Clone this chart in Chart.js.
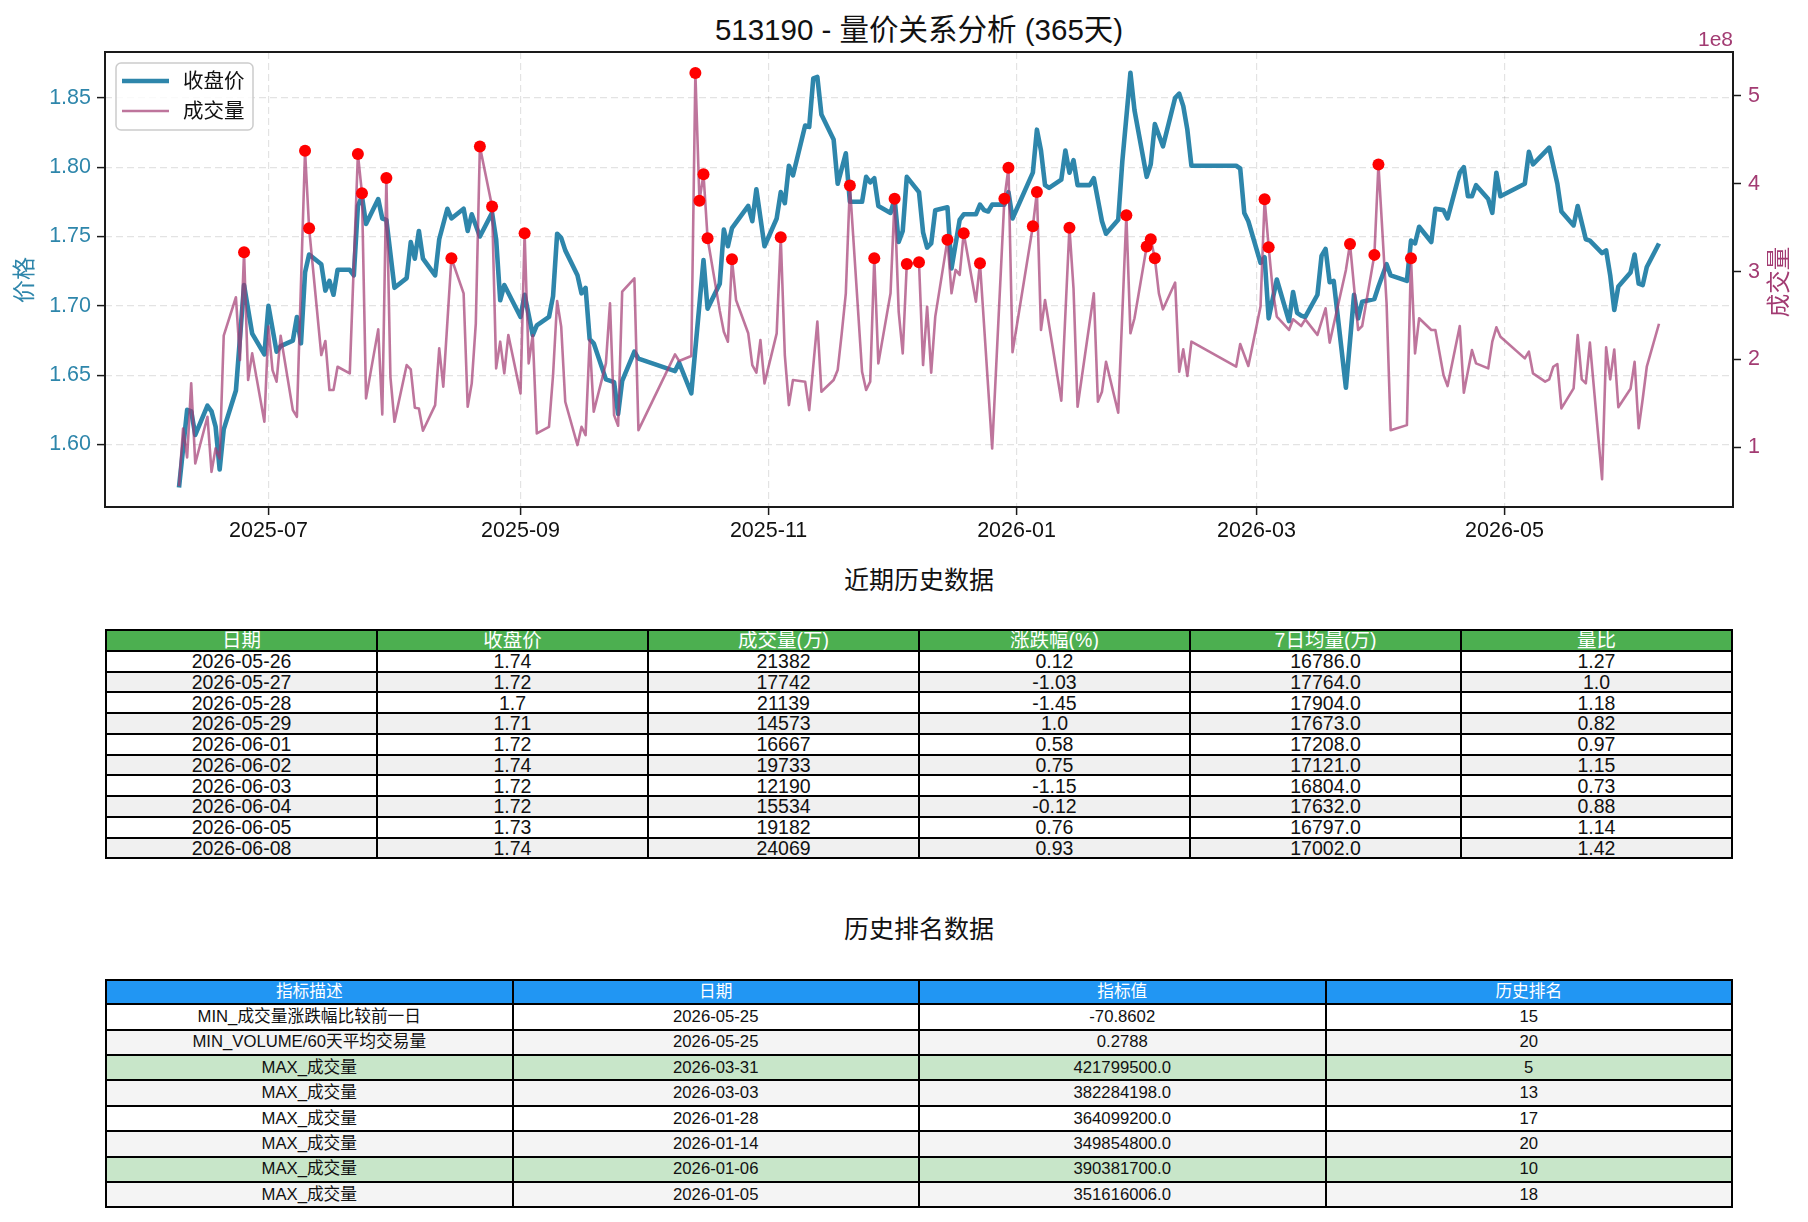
<!DOCTYPE html>
<html>
<head>
<meta charset="utf-8">
<script src="https://cdn.jsdelivr.net/npm/chart.js@4.4.1/dist/chart.umd.min.js"></script>
<style>
  body { margin:0; background:#fff; width:1808px; height:1222px; position:relative; overflow:hidden;
         font-family:"Liberation Sans","Noto Sans CJK SC",sans-serif; color:#111; }
  #chart { position:absolute; left:0; top:0; }
  .ttl { position:absolute; left:0; width:1838px; text-align:center; white-space:nowrap; }
  #mainTitle { top:12px; font-size:29.5px; line-height:36px; }
  #sub1 { top:565px; font-size:25px; line-height:30px; }
  #sub2 { top:914px; font-size:25px; line-height:30px; }
  table { position:absolute; left:105px; width:1628px; border-collapse:collapse; table-layout:fixed; }
  td, th { border:2px solid #000; padding:0; text-align:center; font-weight:normal; white-space:nowrap; overflow:hidden; }
  #t1 { top:629px; font-size:19.5px; }
  #t1 td, #t1 th { line-height:18px; }
  #t1 tr { height:20.75px; }
  #t1 th { background:#4CAF50; color:#fff; }
  #t1 tr.alt td { background:#f0f0f0; }
  #t2 { top:979px; font-size:16.7px; }
  #t2 td, #t2 th { line-height:16px; }
  #t2 tr { height:25.4px; }
  #t2 tr.head { height:24.3px; }
  #t2 th { background:#2196F3; color:#fff; }
  #t2 tr.alt td { background:#f4f4f4; }
  #t2 tr.hit td { background:#C8E6C9; }
</style>
</head>
<body>
<div id="mainTitle" class="ttl">513190 - 量价关系分析 (365天)</div>
<canvas id="chart" width="1808" height="560"></canvas>
<div id="sub1" class="ttl">近期历史数据</div>
<table id="t1"></table>
<div id="sub2" class="ttl">历史排名数据</div>
<table id="t2"></table>

<script>
// 收盘价
const priceDates = ['2025-06-09','2025-06-11','2025-06-12','2025-06-13','2025-06-16','2025-06-17','2025-06-18','2025-06-19','2025-06-20','2025-06-23','2025-06-25','2025-06-27','2025-06-30',
  '2025-07-01','2025-07-03','2025-07-04','2025-07-07','2025-07-08','2025-07-09','2025-07-10','2025-07-11','2025-07-14','2025-07-15','2025-07-16','2025-07-17','2025-07-18','2025-07-21','2025-07-22','2025-07-23','2025-07-24','2025-07-25','2025-07-28','2025-07-29','2025-07-30',
  '2025-08-01','2025-08-04','2025-08-05','2025-08-06','2025-08-07','2025-08-08','2025-08-11','2025-08-12','2025-08-14','2025-08-15','2025-08-18','2025-08-19','2025-08-20','2025-08-22','2025-08-25','2025-08-26','2025-08-27','2025-08-28',
  '2025-09-01','2025-09-02','2025-09-04','2025-09-05','2025-09-08','2025-09-09','2025-09-10','2025-09-11','2025-09-12','2025-09-15','2025-09-16','2025-09-17','2025-09-18','2025-09-19','2025-09-22','2025-09-24','2025-09-25','2025-09-26','2025-09-29','2025-09-30',
  '2025-10-09','2025-10-10','2025-10-13','2025-10-16','2025-10-17','2025-10-20','2025-10-21','2025-10-22','2025-10-23','2025-10-27','2025-10-28','2025-10-29','2025-10-31',
  '2025-11-03','2025-11-04','2025-11-05','2025-11-06','2025-11-07','2025-11-10','2025-11-11','2025-11-12','2025-11-13','2025-11-14','2025-11-17','2025-11-18','2025-11-20','2025-11-21','2025-11-24','2025-11-25','2025-11-26','2025-11-27','2025-11-28',
  '2025-12-01','2025-12-02','2025-12-03','2025-12-04','2025-12-05','2025-12-08','2025-12-09','2025-12-10','2025-12-11','2025-12-12','2025-12-15','2025-12-16','2025-12-18','2025-12-19','2025-12-22','2025-12-23','2025-12-24','2025-12-25','2025-12-26','2025-12-29','2025-12-30','2025-12-31',
  '2026-01-05','2026-01-06','2026-01-07','2026-01-08','2026-01-09','2026-01-12','2026-01-13','2026-01-14','2026-01-15','2026-01-16','2026-01-19','2026-01-20','2026-01-22','2026-01-23','2026-01-26','2026-01-27','2026-01-29','2026-01-30',
  '2026-02-02','2026-02-03','2026-02-04','2026-02-06','2026-02-09','2026-02-10','2026-02-11','2026-02-12','2026-02-13','2026-02-24','2026-02-25','2026-02-26','2026-02-27',
  '2026-03-02','2026-03-03','2026-03-04','2026-03-06','2026-03-09','2026-03-10','2026-03-11','2026-03-12','2026-03-13','2026-03-16','2026-03-17','2026-03-18','2026-03-19','2026-03-20','2026-03-23','2026-03-25','2026-03-26','2026-03-27','2026-03-30','2026-03-31',
  '2026-04-02','2026-04-03','2026-04-07','2026-04-08','2026-04-09','2026-04-10','2026-04-13','2026-04-14','2026-04-16','2026-04-17','2026-04-20','2026-04-21','2026-04-22','2026-04-23','2026-04-24','2026-04-27','2026-04-28','2026-04-29','2026-04-30',
  '2026-05-06','2026-05-07','2026-05-08','2026-05-12','2026-05-14','2026-05-15','2026-05-18','2026-05-19','2026-05-21','2026-05-22','2026-05-25','2026-05-26','2026-05-27','2026-05-28','2026-05-29',
  '2026-06-01','2026-06-02','2026-06-03','2026-06-04','2026-06-05','2026-06-08'];
const closePrice = [1.569,1.625,1.624,1.607,1.628,1.624,1.613,1.582,1.611,1.639,1.715,1.680,1.665,
  1.700,1.667,1.671,1.675,1.692,1.673,1.724,1.737,1.730,1.711,1.718,1.708,1.726,1.726,1.722,1.772,1.779,1.759,1.777,1.763,1.762,
  1.713,1.720,1.746,1.734,1.754,1.734,1.722,1.748,1.770,1.763,1.770,1.754,1.766,1.750,1.767,1.748,1.704,1.715,
  1.692,1.708,1.679,1.686,1.692,1.707,1.752,1.749,1.740,1.722,1.709,1.713,1.676,1.673,1.647,1.645,1.622,1.646,1.667,1.662,
  1.653,1.659,1.637,1.733,1.698,1.716,1.755,1.743,1.756,1.772,1.761,1.784,1.743,
  1.763,1.782,1.774,1.801,1.794,1.830,1.829,1.864,1.865,1.838,1.820,1.788,1.810,1.775,1.775,1.793,1.789,1.792,1.772,
  1.767,1.777,1.746,1.754,1.793,1.782,1.753,1.742,1.745,1.769,1.771,1.727,1.762,1.766,1.766,1.773,1.769,1.768,1.773,1.773,1.782,1.763,
  1.796,1.827,1.812,1.787,1.785,1.791,1.812,1.796,1.805,1.787,1.787,1.792,1.761,1.752,1.762,1.804,1.868,1.841,
  1.793,1.802,1.831,1.815,1.850,1.853,1.844,1.827,1.801,1.801,1.799,1.767,1.761,
  1.731,1.735,1.691,1.719,1.689,1.710,1.695,1.693,1.692,1.708,1.736,1.741,1.717,1.718,1.641,1.708,1.691,1.703,1.705,1.714,
  1.730,1.722,1.718,1.747,1.745,1.757,1.746,1.770,1.769,1.763,1.796,1.800,1.779,1.779,1.787,1.777,1.767,1.796,1.779,
  1.788,1.811,1.802,1.814,1.788,1.768,1.758,1.772,1.748,1.747,1.738,1.740,1.722,1.697,1.714,
  1.724,1.737,1.716,1.715,1.728,1.745];

// 成交量 (单位 1e8)
const volDates = ['2025-06-09','2025-06-10','2025-06-11','2025-06-12','2025-06-13','2025-06-16','2025-06-17','2025-06-18','2025-06-19','2025-06-20','2025-06-23','2025-06-24','2025-06-25','2025-06-26','2025-06-27','2025-06-30',
  '2025-07-01','2025-07-02','2025-07-03','2025-07-04','2025-07-07','2025-07-08','2025-07-10','2025-07-11','2025-07-14','2025-07-15','2025-07-16','2025-07-17','2025-07-18','2025-07-21','2025-07-23','2025-07-24','2025-07-25','2025-07-28','2025-07-29','2025-07-30','2025-07-31',
  '2025-08-01','2025-08-04','2025-08-05','2025-08-06','2025-08-07','2025-08-08','2025-08-11','2025-08-12','2025-08-13','2025-08-15','2025-08-18','2025-08-19','2025-08-20','2025-08-21','2025-08-22','2025-08-25','2025-08-26','2025-08-27','2025-08-28','2025-08-29',
  '2025-09-01','2025-09-02','2025-09-03','2025-09-04','2025-09-05','2025-09-08','2025-09-09','2025-09-10','2025-09-11','2025-09-12','2025-09-15','2025-09-16','2025-09-17','2025-09-18','2025-09-19','2025-09-22','2025-09-23','2025-09-24','2025-09-25','2025-09-26','2025-09-29','2025-09-30',
  '2025-10-09','2025-10-10','2025-10-13','2025-10-14','2025-10-15','2025-10-16','2025-10-17','2025-10-20','2025-10-21','2025-10-22','2025-10-23','2025-10-24','2025-10-27','2025-10-28','2025-10-29','2025-10-30','2025-10-31',
  '2025-11-03','2025-11-04','2025-11-05','2025-11-06','2025-11-07','2025-11-10','2025-11-11','2025-11-13','2025-11-14','2025-11-17','2025-11-18','2025-11-19','2025-11-20','2025-11-21','2025-11-24','2025-11-25','2025-11-26','2025-11-27','2025-11-28',
  '2025-12-01','2025-12-02','2025-12-03','2025-12-04','2025-12-05','2025-12-08','2025-12-09','2025-12-10','2025-12-11','2025-12-12','2025-12-15','2025-12-16','2025-12-17','2025-12-18','2025-12-19','2025-12-22','2025-12-23','2025-12-26','2025-12-29','2025-12-30','2025-12-31',
  '2026-01-05','2026-01-06','2026-01-07','2026-01-08','2026-01-12','2026-01-14','2026-01-15','2026-01-16','2026-01-20','2026-01-21','2026-01-22','2026-01-23','2026-01-26','2026-01-28','2026-01-29','2026-01-30',
  '2026-02-02','2026-02-03','2026-02-04','2026-02-05','2026-02-06','2026-02-09','2026-02-10','2026-02-11','2026-02-12','2026-02-13','2026-02-24','2026-02-25','2026-02-27',
  '2026-03-02','2026-03-03','2026-03-04','2026-03-05','2026-03-06','2026-03-09','2026-03-10','2026-03-12','2026-03-13','2026-03-16','2026-03-18','2026-03-19','2026-03-23','2026-03-24','2026-03-26','2026-03-27','2026-03-30','2026-03-31',
  '2026-04-02','2026-04-03','2026-04-07','2026-04-08','2026-04-09','2026-04-10','2026-04-13','2026-04-14','2026-04-16','2026-04-17','2026-04-20','2026-04-21','2026-04-23','2026-04-24','2026-04-27','2026-04-28','2026-04-29','2026-04-30',
  '2026-05-06','2026-05-07','2026-05-08','2026-05-11','2026-05-12','2026-05-13','2026-05-14','2026-05-15','2026-05-18','2026-05-19','2026-05-20','2026-05-21','2026-05-22','2026-05-25','2026-05-26','2026-05-27','2026-05-28','2026-05-29',
  '2026-06-01','2026-06-02','2026-06-03','2026-06-04','2026-06-05','2026-06-08'];
const volume = [0.56,1.216,0.886,1.729,0.818,1.349,0.723,0.989,0.875,2.271,2.708,1.994,3.22,1.767,2.07,1.292,
  2.374,1.88,1.748,2.271,1.425,1.349,4.374,3.493,2.051,2.211,1.653,1.653,1.918,1.843,4.336,3.892,1.558,2.343,1.376,4.063,1.8,
  1.292,1.937,1.888,1.452,1.444,1.19,1.482,2.127,1.691,3.152,2.753,1.463,1.729,2.412,4.423,3.74,1.899,2.203,1.843,2.279,
  1.615,3.436,1.956,2.279,1.159,1.235,1.824,2.666,2.374,1.52,1.027,1.235,1.14,2.222,1.406,1.956,2.64,1.368,1.247,2.772,2.924,1.197,
  2.059,1.983,2.04,5.258,3.805,4.108,3.38,2.556,2.317,2.203,3.14,2.677,2.298,1.937,1.85,2.222,1.729,
  2.298,3.391,2.051,1.482,1.767,1.748,1.425,2.431,1.634,1.767,1.88,2.298,2.753,3.979,1.861,1.653,1.748,3.152,1.956,
  2.753,3.827,2.545,2.07,3.087,3.106,1.937,2.601,1.85,2.488,3.361,2.753,3.019,2.962,3.436,2.658,3.095,0.989,3.827,4.18,2.082,
  3.516,3.904,2.336,2.677,1.531,3.499,2.81,1.463,2.753,1.52,1.634,1.975,1.395,3.641,2.298,2.469,
  3.285,3.368,3.152,2.753,2.571,2.875,1.861,2.116,1.812,2.203,1.918,2.176,1.926,
  2.602,3.823,3.277,2.791,2.488,2.336,2.457,2.381,2.457,2.28,2.583,2.192,3.019,3.315,2.336,2.381,3.19,4.218,
  2.64,1.197,1.254,3.152,2.07,2.469,2.336,2.336,1.824,1.698,2.381,1.622,2.108,1.956,1.899,2.203,2.366,2.26,
  2.013,2.089,1.843,1.748,1.774,1.918,1.949,1.444,1.672,2.279,1.774,1.729,2.192,0.639,2.1382,1.7742,2.1139,1.4573,
  1.6667,1.9733,1.219,1.5534,1.9182,2.4069];

// 放量标记点 (单位 1e8)
const spikeDates = ['2025-06-25','2025-07-10','2025-07-11','2025-07-23','2025-07-24','2025-07-30','2025-08-15','2025-08-22','2025-08-25','2025-09-02',
  '2025-10-14','2025-10-15','2025-10-16','2025-10-17','2025-10-23','2025-11-04','2025-11-21','2025-11-27','2025-12-02','2025-12-05','2025-12-08',
  '2025-12-15','2025-12-19','2025-12-23','2025-12-29','2025-12-30','2026-01-05','2026-01-06','2026-01-14','2026-01-28','2026-02-02','2026-02-03','2026-02-04',
  '2026-03-03','2026-03-04','2026-03-24','2026-03-30','2026-03-31','2026-04-08'];
const spikeVolume = [3.22,4.374,3.493,4.336,3.892,4.063,3.152,4.423,3.74,3.436,
  5.258,3.805,4.108,3.38,3.14,3.391,3.979,3.152,3.827,3.087,3.106,
  3.361,3.436,3.095,3.827,4.18,3.516,3.904,3.499,3.641,3.285,3.368,3.152,
  3.823,3.277,3.315,3.19,4.218,3.152];

const monthTicks = ['2025-07','2025-09','2025-11','2026-01','2026-03','2026-05'];
const priceTicks = [1.60,1.65,1.70,1.75,1.80,1.85];
const volumeTicks = [1,2,3,4,5];

// 近期历史数据
const recentHeader = ['日期','收盘价','成交量(万)','涨跌幅(%)','7日均量(万)','量比'];
const recentDates = ['2026-05-26','2026-05-27','2026-05-28','2026-05-29','2026-06-01','2026-06-02','2026-06-03','2026-06-04','2026-06-05','2026-06-08'];
const recentClose = ['1.74','1.72','1.7','1.71','1.72','1.74','1.72','1.72','1.73','1.74'];
const recentVol = ['21382','17742','21139','14573','16667','19733','12190','15534','19182','24069'];
const recentChg = ['0.12','-1.03','-1.45','1.0','0.58','0.75','-1.15','-0.12','0.76','0.93'];
const recentMa7 = ['16786.0','17764.0','17904.0','17673.0','17208.0','17121.0','16804.0','17632.0','16797.0','17002.0'];
const recentRatio = ['1.27','1.0','1.18','0.82','0.97','1.15','0.73','0.88','1.14','1.42'];

// 历史排名数据
const rankHeader = ['指标描述','日期','指标值','历史排名'];
const rankDesc = ['MIN_成交量涨跌幅比较前一日','MIN_VOLUME/60天平均交易量','MAX_成交量','MAX_成交量','MAX_成交量','MAX_成交量','MAX_成交量','MAX_成交量'];
const rankDates = ['2026-05-25','2026-05-25','2026-03-31','2026-03-03','2026-01-28','2026-01-14','2026-01-06','2026-01-05'];
const rankValue = ['-70.8602','0.2788','421799500.0','382284198.0','364099200.0','349854800.0','390381700.0','351616006.0'];
const rankPos = [15,20,5,13,17,20,10,18];

const BLUE = '#2E86AB';
const PINK = '#A23B72';
const FONT = '"Liberation Sans","Noto Sans CJK SC",sans-serif';

const base = Date.UTC(2025, 5, 9);
const dayNum = s => {
  const [y, m, d] = s.split('-').map(Number);
  return (Date.UTC(y, m - 1, d || 1) - base) / 864e5;
};
const pts = (ds, vs) => ds.map((d, i) => ({ x: dayNum(d), y: vs[i] }));
const monthDays = monthTicks.map(m => dayNum(m + '-01'));

// 表格
const t1 = document.getElementById('t1');
t1.innerHTML = '<tr>' + recentHeader.map(h => `<th>${h}</th>`).join('') + '</tr>' +
  recentDates.map((d, i) => `<tr class="${i % 2 ? 'alt' : ''}"><td>${d}</td><td>${recentClose[i]}</td><td>${recentVol[i]}</td><td>${recentChg[i]}</td><td>${recentMa7[i]}</td><td>${recentRatio[i]}</td></tr>`).join('');

const t2 = document.getElementById('t2');
t2.innerHTML = '<tr class="head">' + rankHeader.map(h => `<th>${h}</th>`).join('') + '</tr>' +
  rankDesc.map((d, i) => `<tr class="${rankPos[i] <= 10 ? 'hit' : (i % 2 ? 'alt' : '')}"><td>${d}</td><td>${rankDates[i]}</td><td>${rankValue[i]}</td><td>${rankPos[i]}</td></tr>`).join('');

// 边框、图例、坐标轴标题
const decor = {
  id: 'decor',
  afterDatasetsDraw(chart) {
    const { ctx, chartArea: a } = chart;
    ctx.save();
    ctx.strokeStyle = '#1a1a1a';
    ctx.lineWidth = 2;
    ctx.strokeRect(a.left, a.top, a.right - a.left, a.bottom - a.top);

    ctx.beginPath();
    ctx.roundRect(116, 63, 137, 67, 5);
    ctx.fillStyle = 'rgba(255,255,255,0.8)';
    ctx.fill();
    ctx.strokeStyle = '#cccccc';
    ctx.lineWidth = 1.5;
    ctx.stroke();

    ctx.lineCap = 'butt';
    ctx.strokeStyle = BLUE; ctx.lineWidth = 4.6;
    ctx.beginPath(); ctx.moveTo(122, 81); ctx.lineTo(169, 81); ctx.stroke();
    ctx.strokeStyle = 'rgba(162,59,114,0.7)'; ctx.lineWidth = 2.6;
    ctx.beginPath(); ctx.moveTo(122, 111); ctx.lineTo(169, 111); ctx.stroke();

    ctx.fillStyle = '#111';
    ctx.font = '20.5px ' + FONT;
    ctx.textBaseline = 'middle';
    ctx.textAlign = 'left';
    ctx.fillText('收盘价', 183, 82);
    ctx.fillText('成交量', 183, 112);
    ctx.restore();
  },
  afterDraw(chart) {
    const { ctx } = chart;
    ctx.save();
    ctx.textAlign = 'center';
    ctx.textBaseline = 'middle';
    ctx.font = '23px ' + FONT;
    ctx.fillStyle = BLUE;
    ctx.translate(26, 280);
    ctx.rotate(-Math.PI / 2);
    ctx.fillText('价格', 0, 0);
    ctx.restore();

    ctx.save();
    ctx.textAlign = 'center';
    ctx.textBaseline = 'middle';
    ctx.font = '23.5px ' + FONT;
    ctx.fillStyle = PINK;
    ctx.translate(1781, 282);
    ctx.rotate(-Math.PI / 2);
    ctx.fillText('成交量', 0, 0);
    ctx.restore();

    ctx.save();
    ctx.font = '21px ' + FONT;
    ctx.fillStyle = PINK;
    ctx.textAlign = 'right';
    ctx.textBaseline = 'alphabetic';
    ctx.fillText('1e8', 1733, 46);
    ctx.restore();
  }
};

Chart.defaults.font.family = FONT;
Chart.defaults.font.size = 21.5;

const gridCommon = { color: 'rgba(0,0,0,0.11)', lineWidth: 1.2, tickLength: 8, tickColor: '#1a1a1a', tickWidth: 1.5 };

new Chart(document.getElementById('chart'), {
  type: 'line',
  data: {
    datasets: [
      { label: '放量', data: pts(spikeDates, spikeVolume), yAxisID: 'y1', showLine: false,
        pointRadius: 6, pointBackgroundColor: '#ff0000', pointBorderWidth: 0, order: 0 },
      { label: '成交量', data: pts(volDates, volume), yAxisID: 'y1', borderColor: 'rgba(162,59,114,0.7)',
        borderWidth: 2.6, pointRadius: 0, borderJoinStyle: 'round', order: 1 },
      { label: '收盘价', data: pts(priceDates, closePrice), yAxisID: 'y', borderColor: BLUE,
        borderWidth: 4.6, pointRadius: 0, borderJoinStyle: 'round', order: 2 }
    ]
  },
  options: {
    responsive: false,
    animation: false,
    devicePixelRatio: 1,
    layout: { padding: { top: 52, left: 0, right: 0, bottom: 0 } },
    plugins: { legend: { display: false }, tooltip: { enabled: false } },
    scales: {
      x: {
        type: 'linear', min: -18.2, max: 382.2,
        afterBuildTicks: s => { s.ticks = monthDays.map(v => ({ value: v })); },
        afterFit: s => { s.height = 53; },
        ticks: { color: '#111', padding: 3, maxRotation: 0, autoSkip: false,
                 callback: v => monthTicks[monthDays.indexOf(v)] },
        grid: gridCommon,
        border: { display: false, dash: [7, 4] }
      },
      y: {
        position: 'left', min: 1.555, max: 1.883,
        afterBuildTicks: s => { s.ticks = priceTicks.map(v => ({ value: v })); },
        afterFit: s => { s.width = 105; },
        ticks: { color: BLUE, padding: 6, callback: v => v.toFixed(2) },
        grid: gridCommon,
        border: { display: false, dash: [7, 4] }
      },
      y1: {
        position: 'right', min: 0.323, max: 5.497,
        afterBuildTicks: s => { s.ticks = volumeTicks.map(v => ({ value: v })); },
        afterFit: s => { s.width = 75; },
        ticks: { color: PINK, padding: 7, callback: v => String(v) },
        grid: { drawOnChartArea: false, tickLength: 8, tickColor: '#1a1a1a', tickWidth: 1.5 },
        border: { display: false }
      }
    }
  },
  plugins: [decor]
});
</script>
</body>
</html>
